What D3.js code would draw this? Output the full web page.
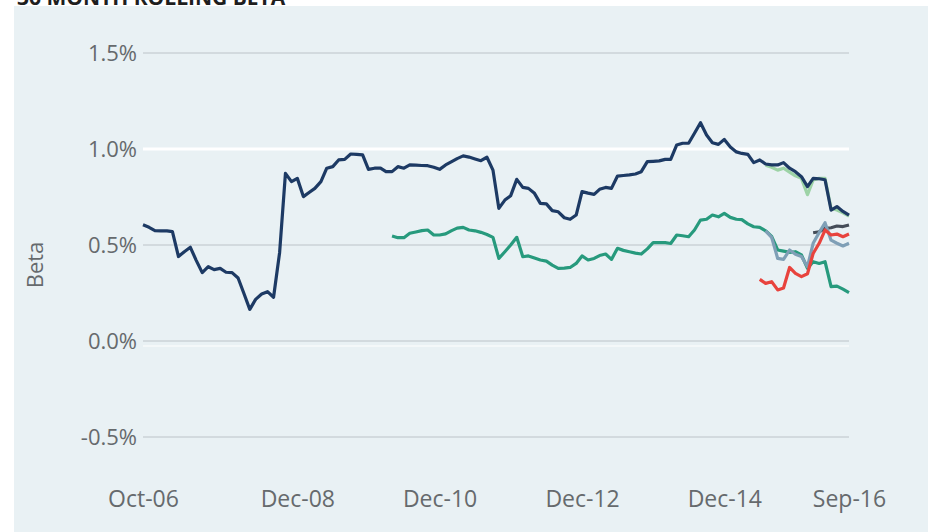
<!DOCTYPE html>
<html>
<head>
<meta charset="utf-8">
<script src="https://cdn.jsdelivr.net/npm/d3@7/dist/d3.min.js"></script>
<style>
  html, body { margin: 0; padding: 0; background: #ffffff; }
  svg { display: block; }
</style>
</head>
<body>
<svg id="chart" width="938" height="532"></svg>
<script>
// ---- DATA (monthly, Oct-06 .. Sep-16) ----
const chartTitle = "36 MONTH ROLLING BETA";
const yAxisTitle = "Beta";
const startMonth = new Date(2006, 9, 1);   // Oct-06
const endMonth = new Date(2016, 8, 1);     // Sep-16
const xTickDates = [new Date(2006, 9, 1), new Date(2008, 11, 1), new Date(2010, 11, 1),
                    new Date(2012, 11, 1), new Date(2014, 11, 1), new Date(2016, 8, 1)];
const yTicks = [-0.5, 0.0, 0.5, 1.0, 1.5];

// Navy series (starts Oct-06)
const navyStart = 0;
const navyValues = [
  0.605, 0.592, 0.575, 0.574, 0.574, 0.570, 0.440, 0.465, 0.488, 0.420,
  0.356, 0.387, 0.372, 0.378, 0.358, 0.356, 0.328, 0.250, 0.165, 0.217,
  0.245, 0.257, 0.228, 0.460, 0.873, 0.830, 0.847, 0.752, 0.775, 0.795,
  0.830, 0.900, 0.908, 0.943, 0.946, 0.974, 0.972, 0.969, 0.894, 0.900,
  0.900, 0.882, 0.882, 0.908, 0.900, 0.917, 0.916, 0.914, 0.913, 0.905,
  0.894, 0.917, 0.934, 0.950, 0.964, 0.958, 0.948, 0.939, 0.957, 0.890,
  0.691, 0.734, 0.757, 0.842, 0.800, 0.795, 0.769, 0.717, 0.714, 0.679,
  0.673, 0.642, 0.634, 0.656, 0.778, 0.770, 0.764, 0.790, 0.800, 0.795,
  0.859, 0.862, 0.865, 0.870, 0.882, 0.934, 0.936, 0.938, 0.946, 0.946,
  1.021, 1.030, 1.030, 1.082, 1.137, 1.073, 1.033, 1.024, 1.050, 1.010,
  0.985, 0.977, 0.972, 0.929, 0.943, 0.922, 0.917, 0.917, 0.929, 0.900,
  0.882, 0.856, 0.804, 0.847, 0.845, 0.840, 0.682, 0.700, 0.675, 0.656
];

// Teal series (starts Apr-10, month index 42)
const tealStart = 42;
const tealValues = [
  0.547, 0.538, 0.538, 0.561, 0.568, 0.575, 0.578, 0.552, 0.552, 0.558,
  0.575, 0.588, 0.592, 0.578, 0.574, 0.566, 0.555, 0.540, 0.430, 0.465,
  0.500, 0.540, 0.439, 0.443, 0.432, 0.422, 0.416, 0.395, 0.378, 0.380,
  0.383, 0.404, 0.443, 0.422, 0.430, 0.445, 0.453, 0.425, 0.483, 0.472,
  0.465, 0.458, 0.453, 0.480, 0.512, 0.512, 0.512, 0.508, 0.552, 0.548,
  0.543, 0.578, 0.630, 0.634, 0.656, 0.647, 0.665, 0.644, 0.634, 0.632,
  0.610, 0.595, 0.592, 0.574, 0.545, 0.474, 0.468, 0.462, 0.465, 0.448,
  0.378, 0.413, 0.404, 0.413, 0.283, 0.286, 0.270, 0.252
];

// Light green series (starts month index 105)
const greenStart = 105;
const greenValues = [
  0.915, 0.905, 0.890, 0.900, 0.880, 0.860, 0.847, 0.762, 0.839, 0.847,
  0.847, 0.690, 0.682, 0.668, 0.651
];

// Blue-grey series (starts month index 105)
const blueGreyStart = 105;
const blueGreyValues = [
  0.574, 0.540, 0.430, 0.425, 0.474, 0.452, 0.440, 0.387, 0.509, 0.565,
  0.616, 0.525, 0.509, 0.495, 0.509
];

// Red series (starts month index 104)
const redStart = 104;
const redValues = [
  0.321, 0.300, 0.309, 0.266, 0.276, 0.383, 0.352, 0.335, 0.350, 0.456,
  0.509, 0.578, 0.552, 0.557, 0.543, 0.557
];

// Dark grey series (starts month index 113)
const greyStart = 113;
const greyValues = [0.564, 0.569, 0.587, 0.590, 0.599, 0.596, 0.604];

// ---- BUILD ----
const months = d3.timeMonth.range(startMonth, d3.timeMonth.offset(endMonth, 1));
function toPoints(start, vals) {
  return vals.map((v, i) => ({ date: months[start + i], value: v }));
}
const series = [
  { name: "teal", color: "#279a7d", data: toPoints(tealStart, tealValues) },
  { name: "grey", color: "#454d58", data: toPoints(greyStart, greyValues) },
  { name: "bluegrey", color: "#7f9fb6", data: toPoints(blueGreyStart, blueGreyValues) },
  { name: "red", color: "#e8433d", data: toPoints(redStart, redValues) },
  { name: "green", color: "#9dd3a6", data: toPoints(greenStart, greenValues) },
  { name: "navy", color: "#1d3a64", data: toPoints(navyStart, navyValues) }
];

const svg = d3.select("#chart");

// panel background
svg.append("rect").attr("x", 14).attr("y", 6).attr("width", 914).attr("height", 540)
  .attr("fill", "#e9f1f4");

// title (cut off at the top like the reference)
svg.append("text").attr("x", 17).attr("y", 5)
  .attr("font-family", "Open Sans, sans-serif").attr("font-weight", "bold")
  .attr("font-size", 21).attr("fill", "#1e1e1e").text(chartTitle);

const x = d3.scaleTime().domain([startMonth, endMonth]).range([143, 849]);
const y = d3.scaleLinear().domain([-0.5, 1.5]).range([437, 53]);

// grid lines
const grid = svg.append("g");
grid.selectAll("line").data(yTicks).join("line")
  .attr("x1", 143).attr("x2", 849)
  .attr("y1", d => y(d)).attr("y2", d => y(d))
  .attr("stroke", d => d === 1.0 ? "#ffffff" : "#bcc3c8")
  .attr("stroke-width", d => d === 1.0 ? 3 : 1);
// faint light line under the zero line
svg.append("line").attr("x1", 143).attr("x2", 849)
  .attr("y1", y(0) + 5).attr("y2", y(0) + 5)
  .attr("stroke", "#ffffff").attr("stroke-width", 1.5).attr("opacity", 0.7);

// y axis labels
const yAxis = d3.axisLeft(y).tickValues(yTicks).tickSize(0).tickPadding(6)
  .tickFormat(d => d.toFixed(1) + "%");
const gy = svg.append("g").attr("transform", "translate(143,0)").call(yAxis);
gy.select(".domain").remove();
gy.selectAll("text").attr("font-family", "Open Sans, sans-serif").attr("font-size", 22)
  .attr("fill", "#666a6d");

// x axis labels
const xAxis = d3.axisBottom(x).tickValues(xTickDates).tickSize(0).tickPadding(0)
  .tickFormat(d3.timeFormat("%b-%y"));
const gx = svg.append("g").attr("transform", "translate(0,491)").call(xAxis);
gx.select(".domain").remove();
gx.selectAll("text").attr("font-family", "Open Sans, sans-serif").attr("font-size", 23)
  .attr("fill", "#666a6d");

// y axis title
svg.append("text").attr("transform", "translate(43,265) rotate(-90)")
  .attr("text-anchor", "middle")
  .attr("font-family", "Open Sans, sans-serif").attr("font-size", 22)
  .attr("fill", "#666a6d").text(yAxisTitle);

// lines
const line = d3.line().x(d => x(d.date)).y(d => y(d.value));
svg.append("g").selectAll("path").data(series).join("path")
  .attr("d", d => line(d.data))
  .attr("fill", "none")
  .attr("stroke", d => d.color)
  .attr("stroke-width", 3.2)
  .attr("stroke-linejoin", "round");
</script>
</body>
</html>
